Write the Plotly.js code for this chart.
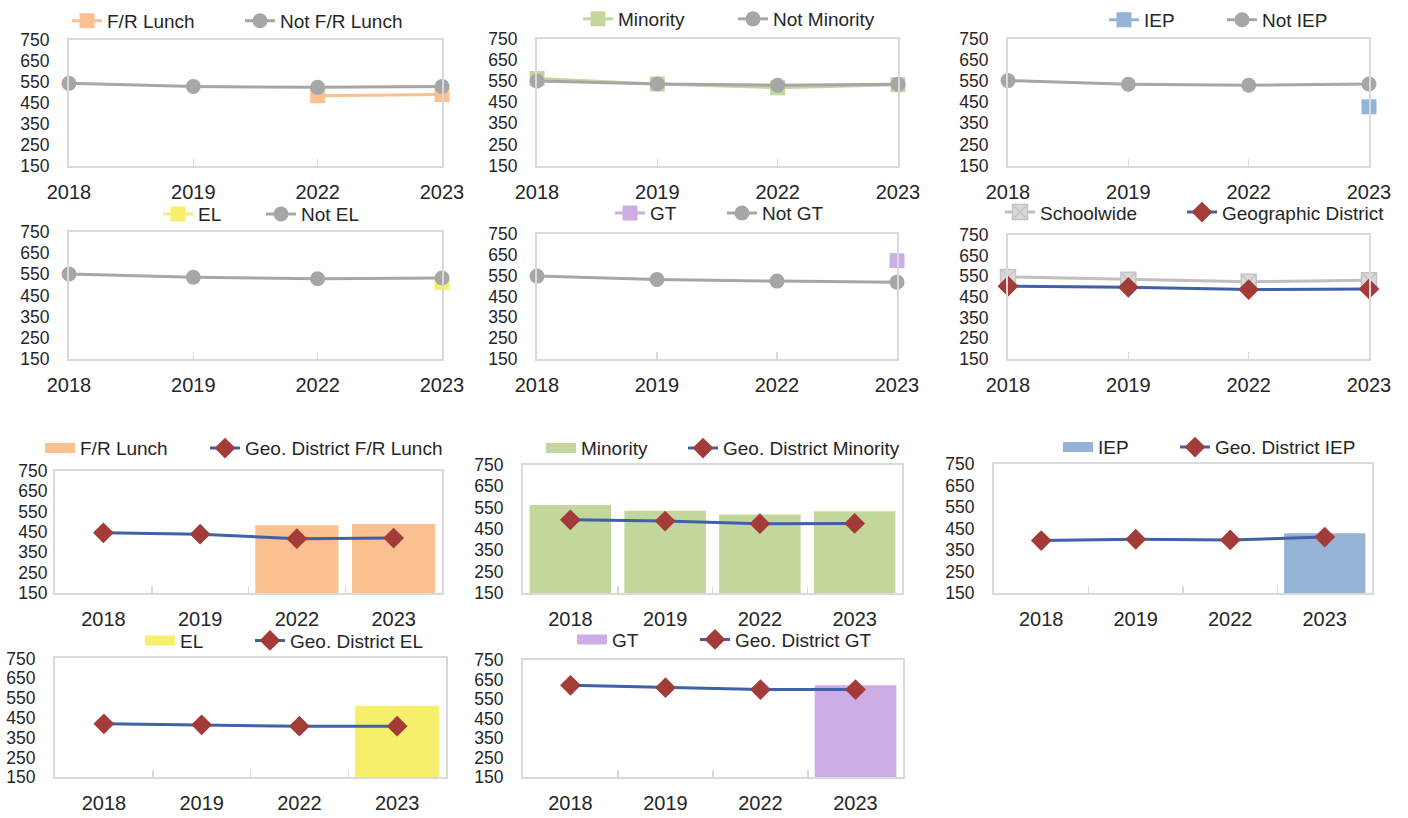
<!DOCTYPE html>
<html>
<head>
<meta charset="utf-8">
<script src="https://cdn.plot.ly/plotly-3.0.1.min.js"></script>
<style>html,body{margin:0;padding:0;background:#fff;}#chart{width:1408px;height:818px;}</style>
</head>
<body>
<div id="chart"></div>
<script>
// ---- data ----
const years = ['2018', '2019', '2022', '2023'];
const yTicks = [150, 250, 350, 450, 550, 650, 750];

const frLunch = [null, null, 483, 489];
const notFrLunch = [542, 527, 523, 527];
const minority = [562, 536, 518, 533];
const notMinority = [550, 536, 530, 535];
const iep = [null, null, null, 428];
const notIep = [552, 535, 530, 536];
const el = [null, null, null, 511];
const notEl = [552, 536, 529, 533];
const gt = [null, null, null, 622];
const notGt = [548, 532, 524, 519];
const schoolwide = [547, 534, 524, 531];
const geoDistrict = [502, 497, 486, 489];
const geoFrLunch = [446, 439, 417, 420];
const geoMinority = [493, 487, 475, 476];
const geoIep = [394, 400, 397, 410];
const geoEl = [420, 415, 408, 408];
const geoGt = [622, 610, 600, 600];

// ---- styling ----
const FONT = 'Liberation Sans, Arial, sans-serif';
const W = 1408, H = 818;
const GRAY = '#A6A6A6';
const FRAME = '#D9D9D9';
const ORANGE = '#FAC090';
const GREEN = '#C3D69B';
const BLUE = '#95B3D7';
const YELLOW = '#F6EF6C';
const LAVENDER = '#CCADE6';
const NAVY = '#4061A8';
const DRED = '#A33B39';

// panel boxes in pixels: [left, top, right, bottom]; legend: text x of item 1, text x of item 2, center y
const panels = [
  {box: [69, 33, 442, 160], leg: [107, 280, 18], ys: 14, kind: 'line'},
  {box: [537, 32, 898, 160], leg: [618, 773, 16], ys: 14, kind: 'line'},
  {box: [1008, 32, 1369, 160], leg: [1144, 1262, 17], ys: 14, kind: 'line'},
  {box: [69, 227, 442, 355], leg: [198, 301, 213], ys: 14, kind: 'line'},
  {box: [537, 229, 897, 355], leg: [650, 762, 212], ys: 14, kind: 'line'},
  {box: [1008, 230, 1369, 355], leg: [1040, 1222, 211], ys: 14, kind: 'line'},
  {box: [55, 468, 442, 591], leg: [80, 245, 449], ys: 2, kind: 'bar'},
  {box: [523, 462, 902, 591], leg: [581, 723, 449], ys: 14, kind: 'bar'},
  {box: [994, 461, 1372, 591], leg: [1098, 1215, 448], ys: 14, kind: 'bar'},
  {box: [55, 657, 446, 777], leg: [180, 290, 643], ys: 14, kind: 'bar'},
  {box: [523, 659, 903, 777], leg: [612, 735, 642], ys: 14, kind: 'bar'}
];

const layout = {
  width: W, height: H,
  margin: {l: 0, r: 0, t: 0, b: 0},
  paper_bgcolor: '#fff', plot_bgcolor: '#fff',
  font: {family: FONT, color: '#262626', size: 19},
  hovermode: false,
  barmode: 'overlay'
};

function legendBox(textX, cy) {
  return {
    x: (textX - 40) / W, y: 1 - (cy - 4) / H,
    xanchor: 'left', yanchor: 'middle',
    orientation: 'h',
    bgcolor: 'rgba(0,0,0,0)',
    font: {family: FONT, size: 19, color: '#262626'}
  };
}

panels.forEach((p, i) => {
  const n = i + 1;
  const sfx = n === 1 ? '' : String(n);
  const [l, t, r, b] = p.box;
  const xa = {
    domain: [l / W, r / W],
    anchor: 'y' + sfx,
    type: 'category',
    categoryorder: 'array', categoryarray: years,
    showline: true, mirror: true, linecolor: FRAME, linewidth: 2,
    showgrid: false, zeroline: false,
    ticks: 'inside', ticklen: 7, tickcolor: FRAME, tickwidth: 1.5,
    ticklabelstandoff: 7,
    tickfont: {family: FONT, size: 20, color: '#262626'},
    fixedrange: true
  };
  if (p.kind === 'line') {
    xa.range = [0, 3];
    xa.autorange = false;
  } else {
    xa.range = [-0.5, 3.5];
    xa.autorange = false;
    xa.tickson = 'boundaries';
  }
  const ya = {
    domain: [1 - b / H, 1 - t / H],
    anchor: 'x' + sfx,
    range: [150, 750], autorange: false,
    tickvals: yTicks, ticktext: yTicks.map(String),
    showline: true, mirror: true, linecolor: FRAME, linewidth: 2,
    showgrid: false, zeroline: false, ticks: '',
    ticklabelstandoff: p.ys,
    tickfont: {family: FONT, size: 17.5, color: '#262626'},
    fixedrange: true
  };
  layout['xaxis' + sfx] = xa;
  layout['yaxis' + sfx] = ya;
  // one legend per entry so each entry sits where the reference puts it
  const a = 2 * n - 1, c = 2 * n;
  layout['legend' + (a === 1 ? '' : a)] = legendBox(p.leg[0], p.leg[2]);
  layout['legend' + c] = legendBox(p.leg[1], p.leg[2]);
});

function ax(n) { return n === 1 ? '' : String(n); }
function lg(n, k) { const id = 2 * n - 2 + k; return 'legend' + (id === 1 ? '' : id); }

function lineTrace(n, k, name, y, color, symbol, size, lineColor, mLine) {
  return {
    type: 'scatter', mode: 'lines+markers', name: name,
    x: years, y: y,
    xaxis: 'x' + ax(n), yaxis: 'y' + ax(n), legend: lg(n, k),
    line: {color: lineColor || color, width: 3},
    marker: {color: color, symbol: symbol, size: size, line: mLine || {width: 0}},
    cliponaxis: false
  };
}
function barTraces(n, name, y, color) {
  return [
    {
      type: 'bar', name: name, x: years, y: y, showlegend: false,
      xaxis: 'x' + ax(n), yaxis: 'y' + ax(n),
      marker: {color: color, line: {width: 0}},
      width: 0.86
    },
    // legend swatch in the reference's wide-rectangle style
    {
      type: 'scatter', mode: 'lines', name: name, x: years, y: years.map(() => null),
      xaxis: 'x' + ax(n), yaxis: 'y' + ax(n), legend: lg(n, 1),
      line: {color: color, width: 13}
    }
  ];
}

const data = [
  lineTrace(1, 1, 'F/R Lunch', frLunch, ORANGE, 'square', 15),
  lineTrace(1, 2, 'Not F/R Lunch', notFrLunch, GRAY, 'circle', 15),
  lineTrace(2, 1, 'Minority', minority, GREEN, 'square', 15),
  lineTrace(2, 2, 'Not Minority', notMinority, GRAY, 'circle', 15),
  lineTrace(3, 1, 'IEP', iep, BLUE, 'square', 15),
  lineTrace(3, 2, 'Not IEP', notIep, GRAY, 'circle', 15),
  lineTrace(4, 1, 'EL', el, YELLOW, 'square', 15),
  lineTrace(4, 2, 'Not EL', notEl, GRAY, 'circle', 15),
  lineTrace(5, 1, 'GT', gt, LAVENDER, 'square', 15),
  lineTrace(5, 2, 'Not GT', notGt, GRAY, 'circle', 15),
  lineTrace(6, 1, 'Schoolwide', schoolwide, '#D9D9D9', 'square-x', 15, '#BFBFBF', {color: '#C4C4C4', width: 1.5}),
  lineTrace(6, 2, 'Geographic District', geoDistrict, DRED, 'diamond', 16, NAVY),
  ...barTraces(7, 'F/R Lunch', frLunch, ORANGE),
  lineTrace(7, 2, 'Geo. District F/R Lunch', geoFrLunch, DRED, 'diamond', 16, NAVY),
  ...barTraces(8, 'Minority', minority, GREEN),
  lineTrace(8, 2, 'Geo. District Minority', geoMinority, DRED, 'diamond', 16, NAVY),
  ...barTraces(9, 'IEP', iep, BLUE),
  lineTrace(9, 2, 'Geo. District IEP', geoIep, DRED, 'diamond', 16, NAVY),
  ...barTraces(10, 'EL', el, YELLOW),
  lineTrace(10, 2, 'Geo. District EL', geoEl, DRED, 'diamond', 16, NAVY),
  ...barTraces(11, 'GT', gt, LAVENDER),
  lineTrace(11, 2, 'Geo. District GT', geoGt, DRED, 'diamond', 16, NAVY)
];

Plotly.newPlot('chart', data, layout, {displayModeBar: false, staticPlot: true});
</script>
</body>
</html>
